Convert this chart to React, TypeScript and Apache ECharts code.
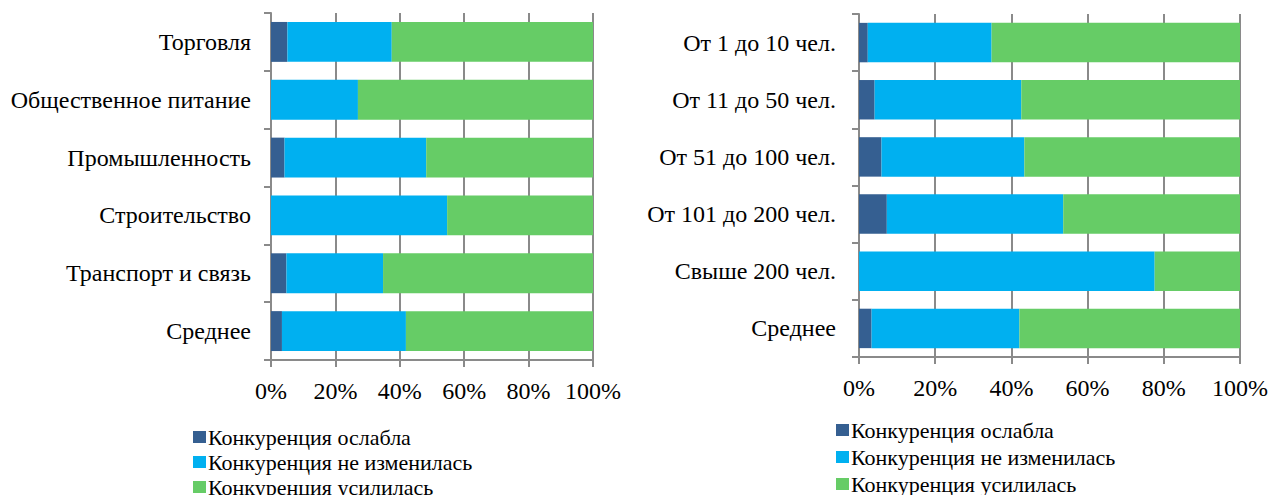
import React, { useEffect, useRef } from "react";
import * as echarts from "echarts";

const seriesNames = ["Конкуренция ослабла", "Конкуренция не изменилась", "Конкуренция усилилась"];
const seriesColors = ["#355F91", "#00B0F0", "#66CC66"];

const industryCategories = ["Торговля", "Общественное питание", "Промышленность", "Строительство", "Транспорт и связь", "Среднее"];
const industryWeakened = [5.1, 0, 4.2, 0, 4.8, 3.4];
const industryUnchanged = [32.4, 27.0, 44.0, 54.7, 30.0, 38.5];
const industryStrengthened = [62.5, 73.0, 51.8, 45.3, 65.2, 58.1];

const sizeCategories = ["От 1 до 10 чел.", "От 11 до 50 чел.", "От 51 до 100 чел.", "От 101 до 200 чел.", "Свыше 200 чел.", "Среднее"];
const sizeWeakened = [2.3, 4.1, 5.9, 7.3, 0, 3.3];
const sizeUnchanged = [32.5, 38.5, 37.5, 46.3, 77.6, 38.8];
const sizeStrengthened = [65.2, 57.4, 56.6, 46.4, 22.4, 57.9];

const xTicks = { min: 0, max: 100, interval: 20 };

const FONT = "Times New Roman, Liberation Serif, serif";
const GRAY = "#8A8A8A";

export default function App() {
  const ref = useRef<HTMLDivElement>(null);
  useEffect(() => {
    document.body.style.margin = "0";
    document.body.style.overflow = "hidden";
    if (!ref.current) return;
    const chart = echarts.init(ref.current, null, { renderer: "svg" });

    const xAxis = (gridIndex: number) => ({
      type: "value",
      gridIndex,
      min: xTicks.min,
      max: xTicks.max,
      interval: xTicks.interval,
      axisLine: { show: true, lineStyle: { color: GRAY, width: 2 } },
      axisTick: { show: true, length: 7, lineStyle: { color: GRAY, width: 2 } },
      splitLine: { show: true, lineStyle: { color: GRAY, width: 2 } },
      axisLabel: { formatter: "{value}%", fontFamily: FONT, fontSize: 24, color: "#000", margin: 19 },
    });
    const yAxis = (gridIndex: number, data: string[], margin: number) => ({
      type: "category",
      gridIndex,
      data,
      inverse: true,
      axisLine: { show: true, lineStyle: { color: GRAY, width: 2 } },
      axisTick: { show: true, length: 7, lineStyle: { color: GRAY, width: 2 } },
      axisLabel: { fontFamily: FONT, fontSize: 24, color: "#000", margin },
    });

    const mk = (name: string, color: string, data: number[], idx: number, stack: string) => ({
      type: "bar",
      name,
      stack,
      xAxisIndex: idx,
      yAxisIndex: idx,
      data,
      barCategoryGap: "31%",
      itemStyle: { color },
    });

    const legendBase = {
      orient: "vertical",
      icon: "rect",
      itemWidth: 13,
      itemHeight: 12,
      padding: 0,
      data: seriesNames,
      selectedMode: false,
      textStyle: { fontFamily: FONT, fontSize: 22, color: "#000", padding: [0, 0, 0, -3] },
    };

    chart.setOption({
      animation: false,
      textStyle: { fontFamily: FONT },
      grid: [
        { left: 271, top: 13, width: 322, height: 347 },
        { left: 859, top: 14, width: 381, height: 343 },
      ],
      xAxis: [xAxis(0), xAxis(1)],
      yAxis: [yAxis(0, industryCategories, 20), yAxis(1, sizeCategories, 23)],
      legend: [
        { ...legendBase, left: 193, top: 426, itemGap: 3 },
        { ...legendBase, left: 836, top: 419, itemGap: 5 },
      ],
      series: [
        mk(seriesNames[0], seriesColors[0], industryWeakened, 0, "L"),
        mk(seriesNames[1], seriesColors[1], industryUnchanged, 0, "L"),
        mk(seriesNames[2], seriesColors[2], industryStrengthened, 0, "L"),
        mk(seriesNames[0], seriesColors[0], sizeWeakened, 1, "R"),
        mk(seriesNames[1], seriesColors[1], sizeUnchanged, 1, "R"),
        mk(seriesNames[2], seriesColors[2], sizeStrengthened, 1, "R"),
      ],
    });
    return () => chart.dispose();
  }, []);
  return <div ref={ref} style={{ width: 1272, height: 540 }} />;
}
